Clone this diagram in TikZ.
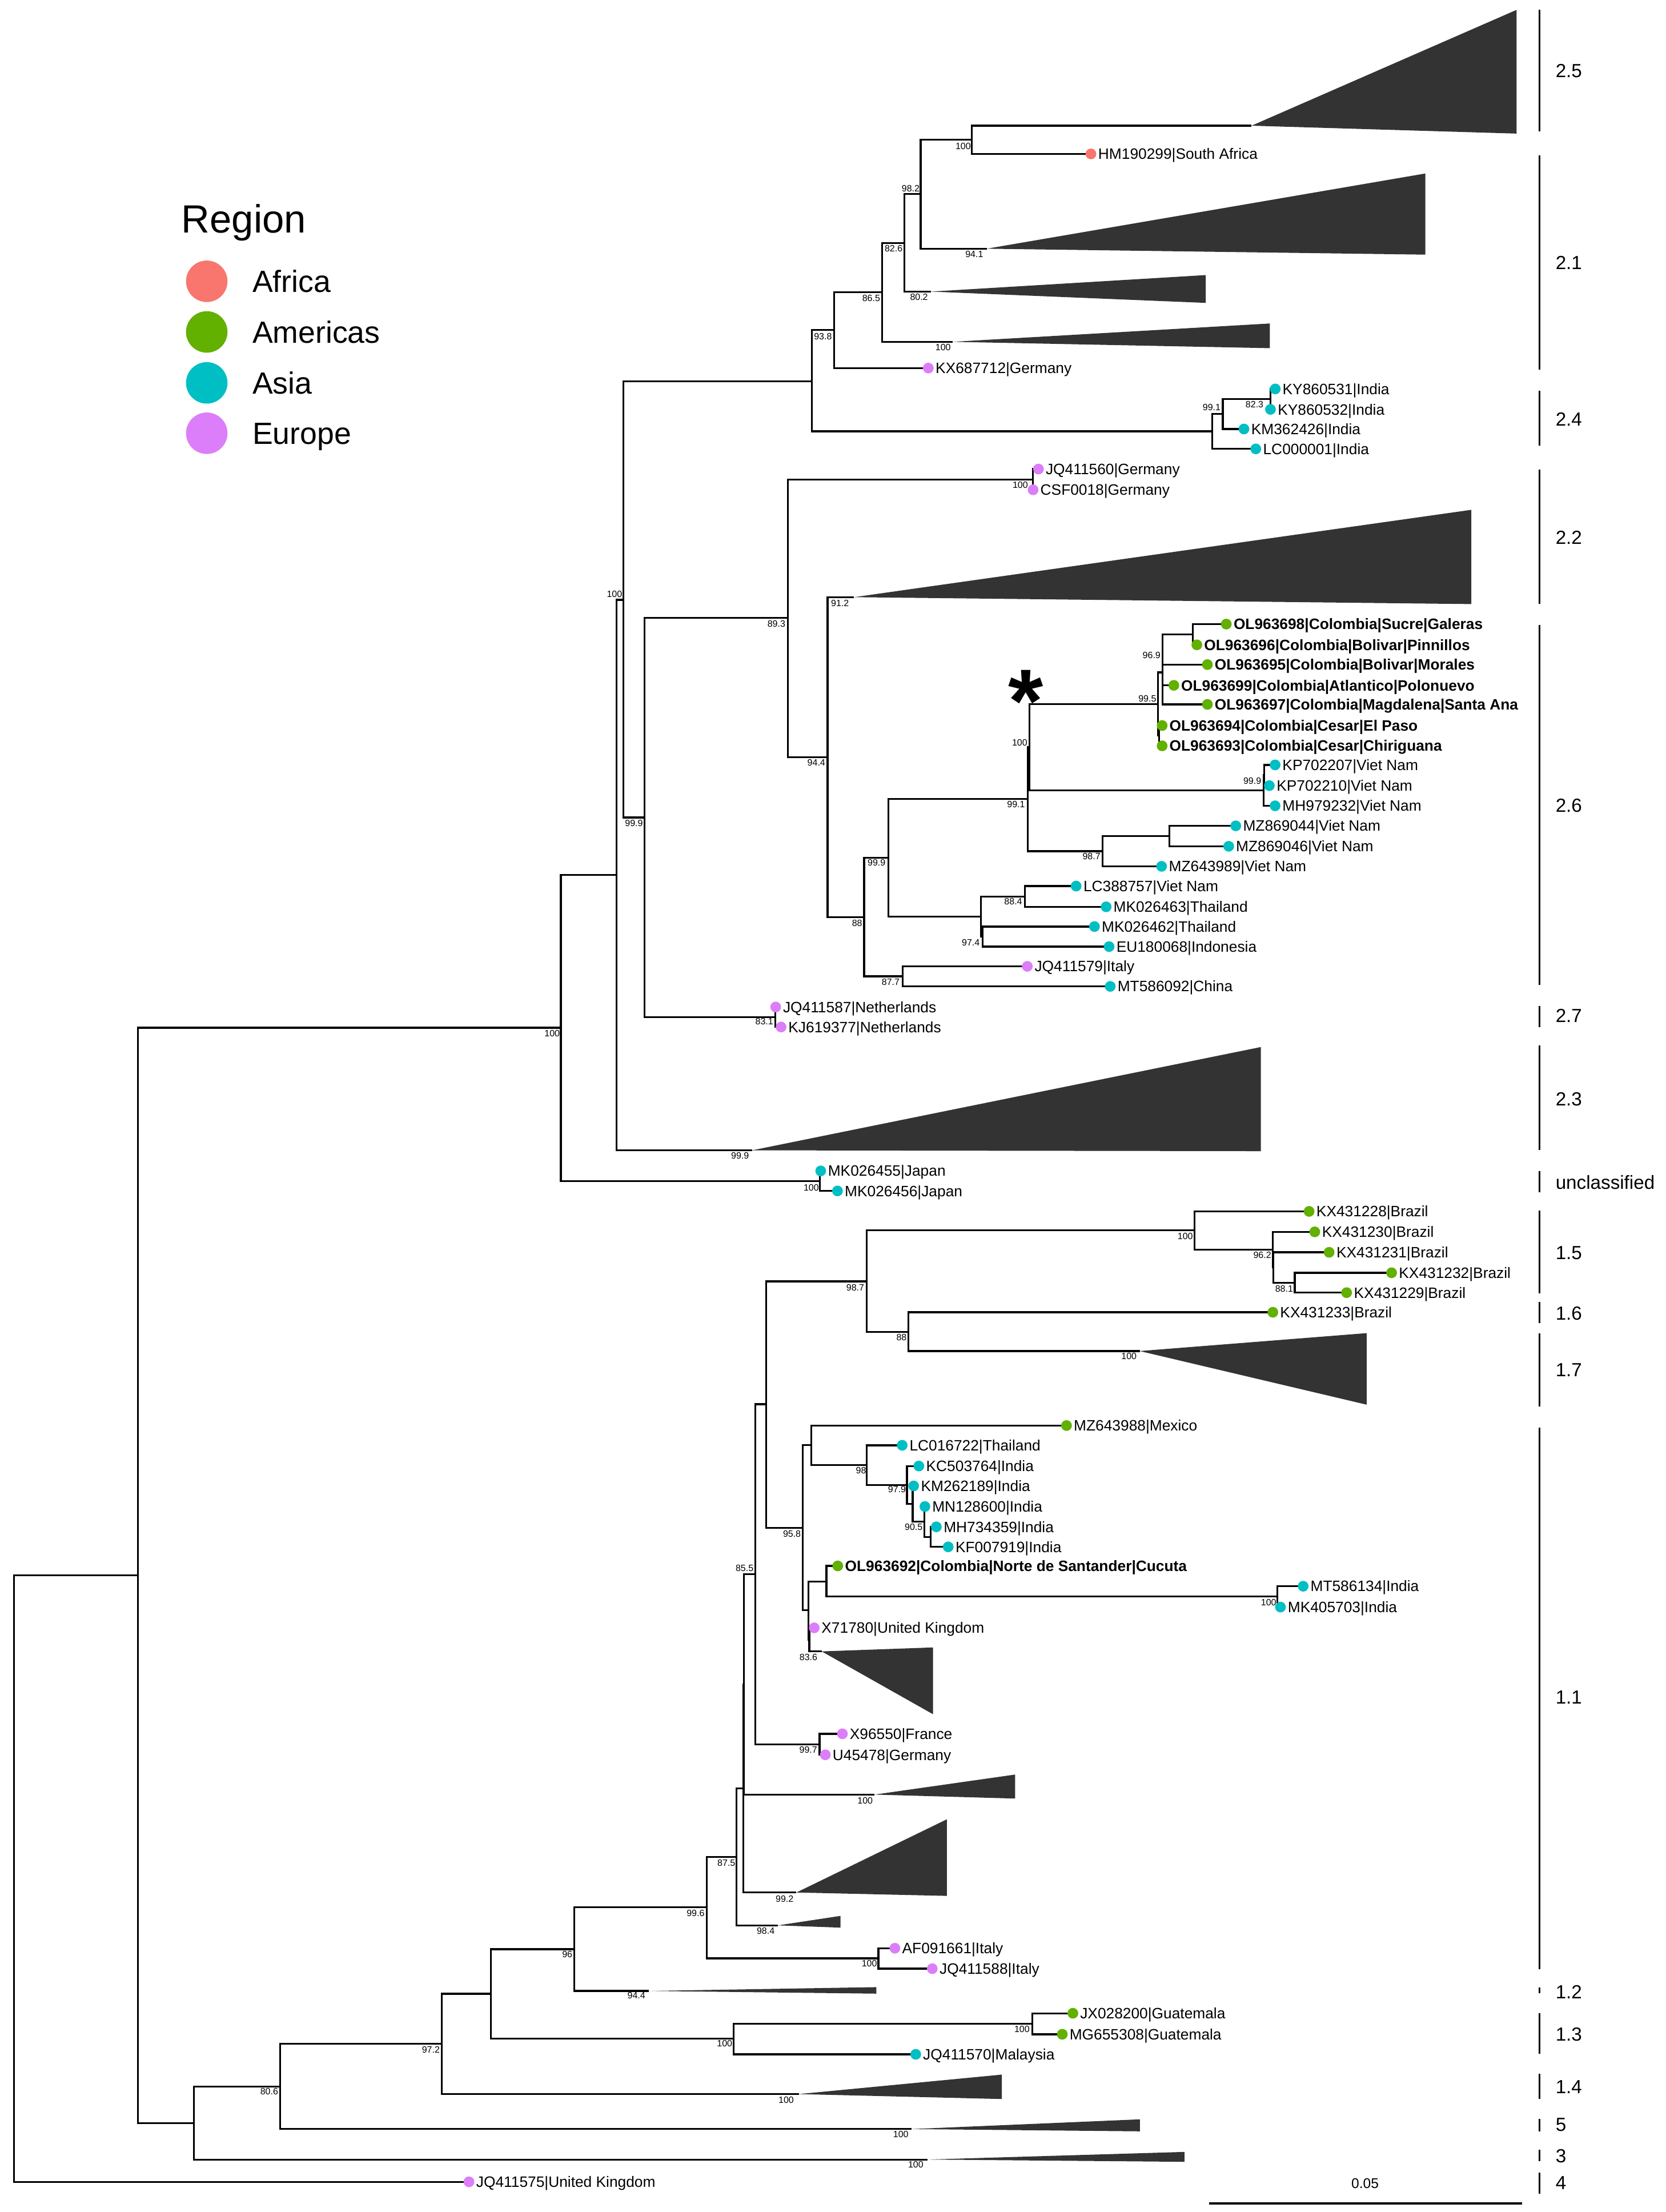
\documentclass[tikz,border=0pt]{standalone}
\usepackage{fontspec}
\setmainfont{Liberation Sans}
\definecolor{afr}{HTML}{F8766D}
\definecolor{ame}{HTML}{62B000}
\definecolor{asi}{HTML}{00BFC4}
\definecolor{eur}{HTML}{DC7EF9}
\definecolor{trigray}{HTML}{333333}
\tikzset{
  br/.style={line width=1.3bp},
  leaf/.style={anchor=base west, inner sep=0pt, font=\fontsize{10.7}{12}\selectfont},
  leafb/.style={anchor=base west, inner sep=0pt, font=\fontsize{10.7}{12}\selectfont\bfseries},
  sup/.style={inner sep=0pt, font=\fontsize{6.5}{7}\selectfont},
  clab/.style={anchor=base west, inner sep=0pt, font=\fontsize{13.5}{15}\selectfont},
  cbar/.style={line width=1.3bp},
  trifill/.style={fill=trigray},
}
\begin{document}
\begin{tikzpicture}[x=1bp,y=-1bp]
\fill[white] (0,0) rectangle (1181,1568);
\useasboundingbox (0,0) rectangle (1181,1568);

% ---------- internal nodes ----------
\foreach \n/\x/\y in {%
 root/10/1331.6, nA/97.9/1116.7, nB/397.7/728.5, nC/437/620.3, nD/441.9/425.2,%
 nE/457/579.5, nF/558.5/438.1, nGER/732.5/339.85, nG/586.8/536.7, nH/612.7/650,%
 nI/629.8/607.9, n877/639.9/692.1, nM/728.8/566.3, nJ/695.4/649.7, nK/726.7/635.5,%
 nL/696.6/663.9, nN/730/529.7, nO/781.8/603.4, nV/829/592.6, nP/821.1/499,%
 nQ/824.4/476.6, nR/821.9/521.5, nS/845.7/449.7, nU/895.8/560.3, nU2/896.5/549.5,%
 nNL/549.6/720.9, nJP/581.4/837.3, n93/575.6/270.3, n938/591.4/233.8, n865/625.3/207.2,%
 n826/641.1/172.2, n982/652.8/137.6, n100a/689.1/99.1, nW/859.5/305.75, nX/867/293.3,%
 nY/900.8/283,%
 nAA/614.4/908.3, nZ/847.1/872.2, n962/902.5/885.9, n962b/903/898.5, n881/918/909.25,%
 nAB/644.1/944, nAC/543.4/995.4, nAD/569.2/1082.9, nAE/575.3/1024.3, nAG/614.5/1038.6,%
 nAH/643.1/1052.6, nAI/647.1/1066, nAJ/655.5/1078.7, nAK/659.9/1089.4, nAF/573.2/1141.5,%
 nAL/586/1121, nAO/905.6/1131.8, nAN/573.8/1162.2, nAP/535.6/1115.7, nAQ/581.1/1236.4,%
 nAR1/527.3/1194, nAR2/527/1267.7, nAS/522.1/1316.2, nAT/501/1352, nAU/622.8/1388.2,%
 nAV/407.2/1381.7, nAZ/348/1413.3, nBA/520.3/1445, nBB/732.1/1434.6, nAY/313.3/1448.8,%
 nAX/198.6/1479, nAW/137.6/1504.9,%
 t25/887.4/89.1, t94/699.6/176.3, t80/660/206.7, t100a/675.4/242.3, t22/605.6/423.3,%
 t23/533.3/815.4, t17/808.1/957.7, t11/582.6/1170.6, t100b/620.1/1272.1, t992/564.7/1341.5,%
 t984/551.6/1364.8, t12/460/1411.3, t14/566.4/1484.4, t5/646.2/1509.2, t3/657.5/1530.8%
}{\coordinate (\n) at (\x,\y);}

% ---------- tips ----------
\foreach \n/\x/\y in {%
 HM190299/773.5/109.1, KX687712/658.2/260.9, KY860531/904.2/275.7, KY860532/900.8/290.2,%
 KM362426/882/304.1, LC000001/890.4/318.2, JQ411560/736.3/332.5, CSF0018/732.5/347.2,%
 OL963698/869.5/442.4, OL963696/848.6/457.1, OL963695/856.1/471.1, OL963699/832.3/485.8,%
 OL963697/856.1/499.3, OL963694/824/514.3, OL963693/824/528.7,%
 KP702207/904.1/542.2, KP702210/900/556.9, MH979232/904.1/571.2, MZ869044/876.2/585.4,%
 MZ869046/871.2/599.9, MZ643989/823.6/614.1, LC388757/763/628.1, MK026463/784.3/642.8,%
 MK026462/776/656.8, EU180068/786.4/671, JQ411579/728.4/685, MT586092/787.2/699.2,%
 JQ411587/550/713.8, KJ619377/553.8/728, MK026455/581.9/830, MK026456/593.8/844.2,%
 KX431228/928.2/858.7, KX431230/932.2/873.2, KX431231/942.4/887.7, KX431232/986.7/902.2,%
 KX431229/954.8/916.3, KX431233/902.5/930.2, MZ643988/756.2/1010.5, LC016722/639.7/1024.5,%
 KC503764/651.5/1039.2, KM262189/647.8/1053.3, MN128600/655.8/1067.9, MH734359/663.9/1082.3,%
 KF007919/672.3/1096.5, OL963692/594/1110, MT586134/924/1124.4, MK405703/907.9/1139.2,%
 X71780/577.3/1153.9, X96550/597.3/1229, U45478/585.2/1243.9, AF091661/634.5/1381,%
 JQ411588/661/1395.5, JX028200/760.7/1427.1, MG655308/753.2/1442, JQ411570/649.3/1456.2,%
 JQ411575/332.5/1546.6%
}{\coordinate (\n) at (\x,\y);}

% ---------- branches ----------
\foreach \p/\c in {%
 root/nA, root/JQ411575, nA/nB, nA/nAW, nB/nC, nB/nJP, nC/nD, nC/t23, nD/n93, nD/nE,%
 nE/nF, nE/nNL, nF/nGER, nF/nG, nGER/JQ411560, nGER/CSF0018, nG/t22, nG/nH, nH/nI, nH/n877,%
 n877/JQ411579, n877/MT586092, nI/nM, nI/nJ, nM/nN, nM/nO, nN/nP, nN/nU, nP/nQ, nP/nR,%
 nQ/nS, nQ/OL963695, nQ/OL963699, nQ/OL963697, nS/OL963698, nS/OL963696,%
 nR/OL963694, nR/OL963693, nU/nU2, nU/MH979232, nU2/KP702207, nU2/KP702210,%
 nO/nV, nO/MZ643989, nV/MZ869044, nV/MZ869046, nJ/nK, nJ/nL, nK/LC388757, nK/MK026463,%
 nL/MK026462, nL/EU180068, nNL/JQ411587, nNL/KJ619377, nJP/MK026455, nJP/MK026456,%
 n93/n938, n93/nW, n938/n865, n938/KX687712, n865/n826, n865/t100a, n826/n982, n826/t80,%
 n982/n100a, n982/t94, n100a/t25, n100a/HM190299, nW/nX, nW/LC000001, nX/nY, nX/KM362426,%
 nY/KY860531, nY/KY860532,%
 nAW/nAX, nAW/t3, nAX/nAY, nAX/t5, nAY/nAZ, nAY/t14, nAZ/nAV, nAZ/nBA, nBA/nBB, nBA/JQ411570,%
 nBB/JX028200, nBB/MG655308, nAV/nAT, nAV/t12, nAT/nAS, nAT/nAU, nAU/AF091661, nAU/JQ411588,%
 nAS/nAR2, nAS/t984, nAR2/nAR1, nAR2/t992, nAR1/nAP, nAR1/t100b, nAP/nAC, nAP/nAQ,%
 nAQ/X96550, nAQ/U45478, nAC/nAA, nAC/nAD, nAA/nZ, nAA/nAB, nZ/KX431228, nZ/n962,%
 n962/KX431230, n962/n962b, n962b/KX431231, n962b/n881, n881/KX431232, n881/KX431229,%
 nAB/KX431233, nAB/t17, nAD/nAE, nAD/nAF, nAE/MZ643988, nAE/nAG, nAG/LC016722, nAG/nAH,%
 nAH/KC503764, nAH/nAI, nAI/KM262189, nAI/nAJ, nAJ/MN128600, nAJ/nAK, nAK/MH734359,%
 nAK/KF007919, nAF/nAL, nAF/nAN, nAL/OL963692, nAL/nAO, nAO/MT586134, nAO/MK405703,%
 nAN/X71780, nAN/t11%
}{\draw[br] (\p) |- (\c);}

% ---------- collapsed clades ----------
\foreach \a/\rx/\top/\bot in {%
 t25/1075.3/7/94.7, t94/1010.6/123/180.5, t80/854.9/195/214.7, t100a/900.4/229.3/246.8,%
 t22/1043.2/361.4/428.2, t23/894/742.2/816, t17/969/945/995.7, t11/661.5/1167.8/1215.1,%
 t100b/719.8/1257.9/1274.9, t992/671.4/1289.6/1343.9, t984/595.9/1358.1/1366.4,%
 t12/621.4/1408.6/1413.2, t14/710.3/1470.6/1487.9, t5/808.2/1502.3/1510.8,%
 t3/839.8/1525.4/1532.4%
}{\fill[trifill] (\a) -- (\rx,\top) -- (\rx,\bot) -- cycle;}

% ---------- tip dots and labels ----------
\foreach \n/\c/\t in {%
 HM190299/afr/{HM190299|South Africa}, KX687712/eur/{KX687712|Germany},%
 KY860531/asi/{KY860531|India}, KY860532/asi/{KY860532|India}, KM362426/asi/{KM362426|India},%
 LC000001/asi/{LC000001|India}, JQ411560/eur/{JQ411560|Germany}, CSF0018/eur/{CSF0018|Germany},%
 KP702207/asi/{KP702207|Viet Nam}, KP702210/asi/{KP702210|Viet Nam}, MH979232/asi/{MH979232|Viet Nam},%
 MZ869044/asi/{MZ869044|Viet Nam}, MZ869046/asi/{MZ869046|Viet Nam}, MZ643989/asi/{MZ643989|Viet Nam},%
 LC388757/asi/{LC388757|Viet Nam}, MK026463/asi/{MK026463|Thailand}, MK026462/asi/{MK026462|Thailand},%
 EU180068/asi/{EU180068|Indonesia}, JQ411579/eur/{JQ411579|Italy}, MT586092/asi/{MT586092|China},%
 JQ411587/eur/{JQ411587|Netherlands}, KJ619377/eur/{KJ619377|Netherlands},%
 MK026455/asi/{MK026455|Japan}, MK026456/asi/{MK026456|Japan},%
 KX431228/ame/{KX431228|Brazil}, KX431230/ame/{KX431230|Brazil}, KX431231/ame/{KX431231|Brazil},%
 KX431232/ame/{KX431232|Brazil}, KX431229/ame/{KX431229|Brazil}, KX431233/ame/{KX431233|Brazil},%
 MZ643988/ame/{MZ643988|Mexico}, LC016722/asi/{LC016722|Thailand}, KC503764/asi/{KC503764|India},%
 KM262189/asi/{KM262189|India}, MN128600/asi/{MN128600|India}, MH734359/asi/{MH734359|India},%
 KF007919/asi/{KF007919|India}, MT586134/asi/{MT586134|India}, MK405703/asi/{MK405703|India},%
 X71780/eur/{X71780|United Kingdom}, X96550/eur/{X96550|France}, U45478/eur/{U45478|Germany},%
 AF091661/eur/{AF091661|Italy}, JQ411588/eur/{JQ411588|Italy}, JX028200/ame/{JX028200|Guatemala},%
 MG655308/ame/{MG655308|Guatemala}, JQ411570/asi/{JQ411570|Malaysia},%
 JQ411575/eur/{JQ411575|United Kingdom}%
}{\fill[\c] (\n) circle[radius=3.8bp];
  \node[leaf] (\n-lab) at ([xshift=5bp,yshift=-3.8bp]\n) {\t};}

\foreach \n/\t in {%
 OL963698/{OL963698|Colombia|Sucre|Galeras}, OL963696/{OL963696|Colombia|Bolivar|Pinnillos},%
 OL963695/{OL963695|Colombia|Bolivar|Morales}, OL963699/{OL963699|Colombia|Atlantico|Polonuevo},%
 OL963697/{OL963697|Colombia|Magdalena|Santa Ana}, OL963694/{OL963694|Colombia|Cesar|El Paso},%
 OL963693/{OL963693|Colombia|Cesar|Chiriguana}, OL963692/{OL963692|Colombia|Norte de Santander|Cucuta}%
}{\fill[ame] (\n) circle[radius=3.8bp];
  \node[leafb] (\n-lab) at ([xshift=5bp,yshift=-3.8bp]\n) {\t};}

% ---------- support values ----------
\foreach \x/\y/\t [count=\i] in {%
 682.9/103.5/100, 645.7/133.5/98.2, 633.6/176.3/82.6, 690.8/180.3/94.1, 617.7/211.2/86.5,%
 651.6/210.7/80.2, 583.5/238.7/93.8, 668.7/246.3/100, 859.1/288.7/99.1, 889.5/286.6/82.3,%
 723.4/344.0/100, 595.6/427.7/91.2, 550.5/442.4/89.3, 578.8/540.6/94.4, 816.5/464.5/96.9,%
 813.5/495.1/99.5, 723.0/526.3/100, 887.9/553.7/99.9, 720.4/570.0/99.1, 773.9/607.2/98.7,%
 621.5/611.6/99.9, 718.4/639.1/88.4, 607.7/654.3/88, 688.3/668.1/97.4, 631.5/696.3/87.7,%
 435.7/421.0/100, 449.5/583.7/99.9, 541.9/724.0/83.1, 391.5/732.7/100, 524.7/819.4/99.9,%
 575.2/841.7/100, 840.4/876.5/100, 895.0/889.8/96.2, 910.5/913.6/88.1, 606.4/912.6/98.7,%
 639.2/948.0/88, 800.5/961.5/100, 610.5/1042.3/98, 636.0/1055.8/97.9, 647.8/1082.3/90.5,%
 561.5/1087.2/95.8, 527.9/1111.6/85.5, 899.5/1135.7/100, 573.2/1174.8/83.6, 573.1/1240.3/99.7,%
 613.4/1276.5/100, 515.0/1320.6/87.5, 556.3/1345.9/99.2, 493.2/1356.0/99.6, 542.9/1368.7/98.4,%
 616.4/1391.9/100, 402.2/1385.5/96, 451.2/1414.5/94.4, 513.8/1448.7/100, 724.6/1438.3/100,%
 305.5/1452.8/97.2, 190.9/1482.5/80.6, 557.4/1488.5/100, 638.7/1512.9/100, 649.3/1534.5/100%
}{\node[sup] (s\i) at (\x,\y) {\t};}

% ---------- asterisk ----------
\node[inner sep=0pt, anchor=base, font=\fontsize{64}{66}\selectfont\bfseries] (ast) at (727.2,519) {*};

% ---------- clade bars ----------
\foreach \a/\b/\m/\t [count=\i] in {%
 7/93/50/2.5, 110/262/186/2.1, 277/316/297/2.4, 333/428/381/2.2, 443/698/571/2.6,%
 713/728/720/2.7, 741/815/779/2.3, 830/845/838/unclassified, 858/917/888/1.5,%
 923/938/931/1.6, 945/997/971/1.7, 1012/1396/1203/1.1, 1409/1413/1412/1.2,%
 1427/1456/1442/1.3, 1470/1488/1479/1.4, 1502/1511/1506/5, 1524/1532/1528/3,%
 1540/1555/1547/4%
}{\draw[cbar] (1091.4,\a) -- (1091.4,\b);
  \node[clab] (cl\i) at (1102.8,\m+4.8) {\t};}

% ---------- scale bar ----------
\coordinate (sbL) at (857.2,1561.9);
\coordinate (sbR) at (1079.4,1561.9);
\draw[line width=2bp] (sbL) -- (sbR);
\node[inner sep=0pt, font=\fontsize{10}{12}\selectfont] (sbt) at (967.9,1547.7) {0.05};

% ---------- legend ----------
\node[anchor=base west, inner sep=0pt, font=\fontsize{28}{32}\selectfont] (legt) at (128.5,165) {Region};
\foreach \y/\c/\t [count=\i] in {199.4/afr/Africa, 235.3/ame/Americas, 271.4/asi/Asia, 307.1/eur/Europe}{%
  \fill[\c] (146.6,\y) circle[radius=14.7bp];
  \node[anchor=base west, inner sep=0pt, font=\fontsize{21.8}{24}\selectfont] (leg\i) at (178.8,\y+7.8) {\t};}
\end{tikzpicture}
\end{document}
